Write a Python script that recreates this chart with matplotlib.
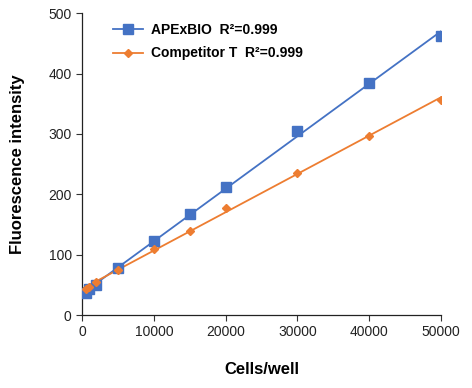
import numpy as np
import matplotlib
matplotlib.use("Agg")
import matplotlib.pyplot as plt

plt.rcParams['font.family'] = ['Liberation Sans', 'DejaVu Sans']

# data
cells = [500, 1000, 2000, 5000, 10000, 15000, 20000, 30000, 40000, 50000]
apexbio = [37, 43, 50, 78, 123, 168, 212, 305, 384, 462]
competitor = [43, 47, 54, 75, 110, 140, 178, 235, 297, 356]
labels = ["APExBIO  R\u00b2=0.999", "Competitor T  R\u00b2=0.999"]
colors = ["#4472C4", "#ED7D31"]
markers = ["s", "D"]
msizes = [7, 4.5]

fig = plt.figure(figsize=(4.72, 3.88), dpi=100)
ax = fig.add_axes([0.174, 0.188, 0.76, 0.778])

x = np.array(cells)
for vals, lab, c, m, ms in zip([apexbio, competitor], labels, colors, markers, msizes):
    y = np.array(vals)
    # linear trendline like excel
    k, q = np.polyfit(x, y, 1)
    xx = np.array([0, x.max()])
    ax.plot(xx, k * xx + q, color=c, lw=1.3, zorder=2)
    ax.plot(x, y, ls="none", marker=m, ms=ms, color=c, zorder=3)
    # legend proxy
    ax.plot([], [], color=c, lw=1.3, marker=m, ms=ms, label=lab)

ax.set_xlim(0, 50000)
ax.set_ylim(0, 500)
ax.set_xticks(range(0, 50001, 10000))
ax.set_yticks(range(0, 501, 100))
ax.tick_params(labelsize=10, length=4, width=0.8, color="#333333", labelcolor="#222222")
for s in ["top", "right"]:
    ax.spines[s].set_visible(False)
for s in ["left", "bottom"]:
    ax.spines[s].set_color("#222222")
    ax.spines[s].set_linewidth(0.9)

ax.set_xlabel("Cells/well", fontsize=12, fontweight="bold", labelpad=16)
ax.set_ylabel("Fluorescence intensity", fontsize=12, fontweight="bold", labelpad=17)

leg = ax.legend(loc="upper left", bbox_to_anchor=(0.05, 1.01), frameon=False,
                prop={"weight": "bold", "size": 10}, handlelength=2.2,
                labelspacing=0.7, handletextpad=0.6)

fig.savefig("out.png", dpi=100)
